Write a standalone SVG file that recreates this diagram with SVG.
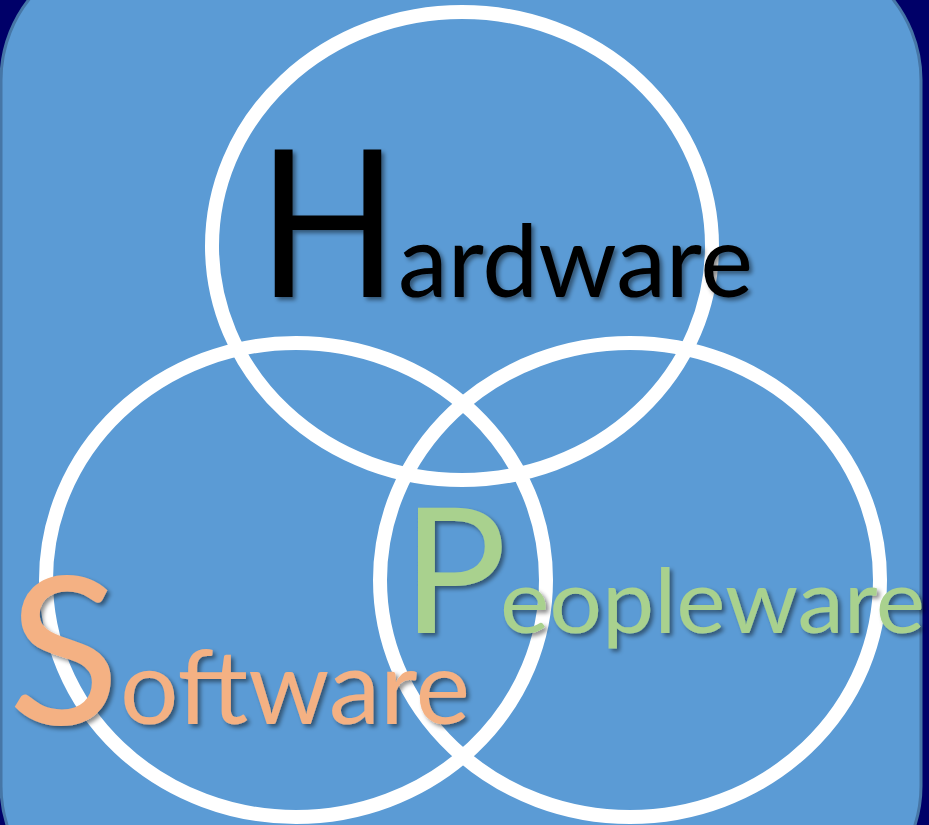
<svg xmlns="http://www.w3.org/2000/svg" width="929" height="825" viewBox="0 0 929 825">
  <defs>
    <filter id="sh" x="-10%" y="-10%" width="130%" height="130%">
      <feDropShadow dx="3" dy="3" stdDeviation="2" flood-color="#000" flood-opacity="0.45"/>
    </filter>
    <style>
      .ring { fill: none; stroke: #ffffff; stroke-width: 14; }
      .t { font-family: Lato, "Liberation Sans", sans-serif; filter: url(#sh); }
    </style>
  </defs>
  <rect x="0" y="0" width="929" height="825" fill="#000068"/>
  <rect x="1" y="-50" width="920" height="966" rx="130" ry="130" fill="#5b9bd5" stroke="#4676a6" stroke-width="3"/>
  <g id="rings">
    <ellipse id="hardware-ring" class="ring" cx="462" cy="246" rx="250" ry="234"/>
    <ellipse id="software-ring" class="ring" cx="296" cy="580" rx="250" ry="237"/>
    <ellipse id="peopleware-ring" class="ring" cx="630" cy="580" rx="250" ry="237"/>
  </g>
  <g id="hardware">
    <text class="t" x="258" y="297" font-size="205" fill="#000000" textLength="140" lengthAdjust="spacingAndGlyphs">H</text>
    <text class="t" x="398" y="297" font-size="100" fill="#000000" textLength="355" lengthAdjust="spacingAndGlyphs">ardware</text>
  </g>
  <g id="software">
    <text class="t" x="8" y="724" font-size="206" fill="#f4b183" textLength="112" lengthAdjust="spacingAndGlyphs">S</text>
    <text class="t" x="120" y="724" font-size="102" fill="#f4b183" textLength="350" lengthAdjust="spacingAndGlyphs">oftware</text>
  </g>
  <g id="peopleware">
    <text class="t" x="402" y="633" font-size="174" fill="#a9d18e" textLength="105" lengthAdjust="spacingAndGlyphs">P</text>
    <text class="t" x="500" y="633" font-size="89" fill="#a9d18e" textLength="425" lengthAdjust="spacingAndGlyphs">eopleware</text>
  </g>
</svg>
